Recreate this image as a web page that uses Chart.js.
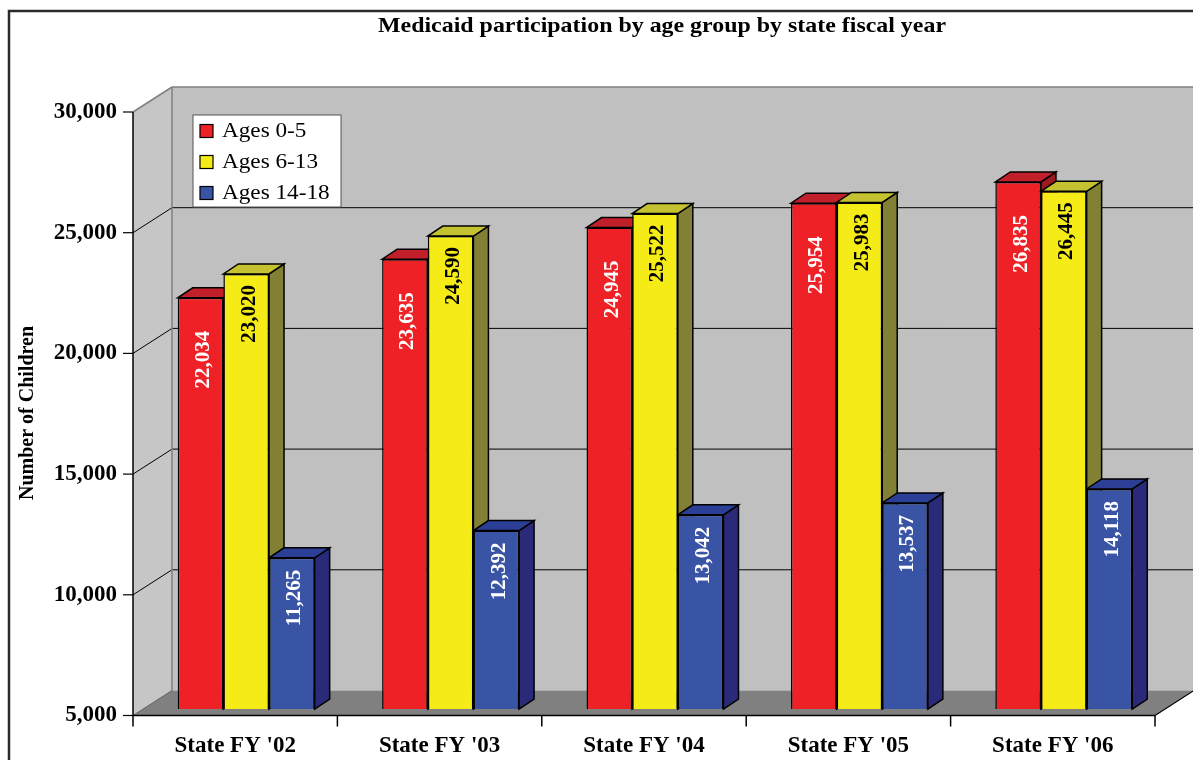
<!DOCTYPE html>
<html><head><meta charset="utf-8">
<script src="https://cdn.jsdelivr.net/npm/chart.js@4/dist/chart.umd.min.js"></script>
<style>html,body{margin:0;padding:0;background:#fff}#wrap{width:1193px;height:760px;position:relative}</style>
</head><body><div id="wrap"><canvas id="c" width="1193" height="760"></canvas></div>
<script>
const categories = ["State FY '02","State FY '03","State FY '04","State FY '05","State FY '06"];
const ages0to5 = [22034,23635,24945,25954,26835];
const ages6to13 = [23020,24590,25522,25983,26445];
const ages14to18 = [11265,12392,13042,13537,14118];
const seriesNames = ["Ages 0-5","Ages 6-13","Ages 14-18"];
const yTicks = [5000,10000,15000,20000,25000,30000];
const chartTitle = "Medicaid participation by age group by state fiscal year";
const yAxisTitle = "Number of Children";

const frontColors = ['#EE2226','#F5EB16','#3A54A5'];
const topColors = ['#C1202A','#C4C230','#2C3F96'];
const sideColors = ['#9A1A1F','#828034','#2A2A78'];
const labelColors = ['#FFFFFF','#000000','#FFFFFF'];
const labelGap = [33, 11, 12];
const SERIF = '"Liberation Serif","Times New Roman",serif';
const FRONT = {x:-11, y:6.5}, BACK = {x:28, y:-18.5}, BAR3D = {x:15, y:-10};

function poly(ctx, pts, fill, stroke, lw){
  ctx.beginPath(); ctx.moveTo(pts[0][0], pts[0][1]);
  for (let i=1;i<pts.length;i++) ctx.lineTo(pts[i][0], pts[i][1]);
  ctx.closePath();
  if (fill){ ctx.fillStyle = fill; ctx.fill(); }
  if (stroke){ ctx.strokeStyle = stroke; ctx.lineWidth = lw||1; ctx.stroke(); }
}
function line(ctx, x1,y1,x2,y2, color, lw){
  ctx.beginPath(); ctx.moveTo(x1,y1); ctx.lineTo(x2,y2);
  ctx.strokeStyle = color; ctx.lineWidth = lw||1; ctx.stroke();
}
function stretchedText(ctx, text, x, y, targetWidth, scaleX){
  const w = ctx.measureText(text).width;
  const sx = targetWidth ? targetWidth / w : scaleX;
  ctx.save(); ctx.translate(x, y); ctx.scale(sx, 1); ctx.fillText(text, 0, 0); ctx.restore();
}

const scene3d = {
  id: 'scene3d',
  beforeDatasetsDraw(chart){
    const ctx = chart.ctx, a = chart.chartArea, ys = chart.scales.y;
    const L=a.left, R=a.right, T=a.top, B=a.bottom;
    ctx.save();
    poly(ctx, [[L+FRONT.x,T+FRONT.y],[L+BACK.x,T+BACK.y],[L+BACK.x,B+BACK.y],[L+FRONT.x,B+FRONT.y]], '#C6C6C6');
    poly(ctx, [[L+BACK.x,T+BACK.y],[R+BACK.x,T+BACK.y],[R+BACK.x,B+BACK.y],[L+BACK.x,B+BACK.y]], '#C0C0C0');
    poly(ctx, [[L+FRONT.x,B+FRONT.y],[L+BACK.x,B+BACK.y],[R+BACK.x,B+BACK.y],[R+FRONT.x,B+FRONT.y]], '#808080');
    yTicks.forEach(v=>{
      const y = ys.getPixelForValue(v);
      if (v!==yTicks[0] && v!==yTicks[yTicks.length-1]){
        line(ctx, L+BACK.x, y+BACK.y, R+BACK.x+2, y+BACK.y, '#000', 1);
        line(ctx, L+FRONT.x, y+FRONT.y, L+BACK.x, y+BACK.y, '#000', 1);
      }
      line(ctx, L+FRONT.x-10, y+FRONT.y, L+FRONT.x, y+FRONT.y, '#000', 1.2);
    });
    line(ctx, L+FRONT.x, T+FRONT.y, L+BACK.x, T+BACK.y, '#808080', 1.5);
    line(ctx, L+BACK.x, T+BACK.y, R+BACK.x+2, T+BACK.y, '#808080', 1.5);
    line(ctx, L+BACK.x, T+BACK.y, L+BACK.x, B+BACK.y, '#808080', 1.5);
    line(ctx, L+FRONT.x, B+FRONT.y, L+BACK.x, B+BACK.y, '#606060', 1);
    line(ctx, R+FRONT.x, B+FRONT.y, R+BACK.x, B+BACK.y, '#000', 1.2);
    line(ctx, L+FRONT.x, T+FRONT.y, L+FRONT.x, B+FRONT.y, '#000', 1.5);
    line(ctx, L+FRONT.x, B+FRONT.y, R+FRONT.x, B+FRONT.y, '#000', 1.5);
    const n = categories.length, cw = (R-L)/n;
    for (let i=0;i<=n;i++){
      const x = L+FRONT.x + i*cw;
      line(ctx, x, B+FRONT.y, x, B+FRONT.y+11, '#000', 1.5);
    }
    for (let i=0;i<n;i++){
      chart.data.datasets.forEach((ds,d)=>{
        const el = chart.getDatasetMeta(d).data[i];
        const w = el.width, l = el.x - w/2, r = el.x + w/2, y = el.y, b = Math.min(el.base, B);
        poly(ctx, [[r,y],[r+BAR3D.x,y+BAR3D.y],[r+BAR3D.x,b+BAR3D.y],[r,b]], sideColors[d], '#000', 1.5);
        poly(ctx, [[l,y],[r,y],[r+BAR3D.x,y+BAR3D.y],[l+BAR3D.x,y+BAR3D.y]], topColors[d], '#000', 1.5);
      });
    }
    ctx.restore();
  },
  afterDatasetsDraw(chart){
    const ctx = chart.ctx;
    ctx.save();
    ctx.font = 'bold 21px ' + SERIF;
    ctx.textAlign = 'right'; ctx.textBaseline = 'middle';
    chart.data.datasets.forEach((ds,d)=>{
      chart.getDatasetMeta(d).data.forEach((el,i)=>{
        ctx.save();
        ctx.translate(el.x + 3, el.y + labelGap[d]);
        ctx.rotate(-Math.PI/2);
        ctx.fillStyle = labelColors[d];
        ctx.fillText(ds.data[i].toLocaleString('en-US'), 0, 0);
        ctx.restore();
      });
    });
    ctx.restore();
  },
  afterDraw(chart){
    const ctx = chart.ctx, a = chart.chartArea;
    ctx.save();
    ctx.strokeStyle = '#2a2a2a'; ctx.lineWidth = 2.5;
    ctx.beginPath(); ctx.moveTo(9, 762); ctx.lineTo(9, 11); ctx.lineTo(1195, 11); ctx.stroke();
    ctx.fillStyle = '#000';
    ctx.font = 'bold 21px ' + SERIF;
    ctx.textAlign = 'left'; ctx.textBaseline = 'middle';
    stretchedText(ctx, chartTitle, 378, 27, 568);
    ctx.save();
    ctx.translate(28, 413); ctx.rotate(-Math.PI/2);
    ctx.font = 'bold 20px ' + SERIF; ctx.textAlign = 'center';
    ctx.fillText(yAxisTitle, 0, 0);
    ctx.restore();
    const lx = a.left + 49, ly = a.top + 9.5, lw = 148, lh = 92;
    ctx.fillStyle = '#fff'; ctx.fillRect(lx, ly, lw, lh);
    ctx.strokeStyle = '#555'; ctx.lineWidth = 1; ctx.strokeRect(lx, ly, lw, lh);
    ctx.font = '20px ' + SERIF; ctx.textAlign = 'left'; ctx.textBaseline = 'middle';
    chart.data.datasets.forEach((ds,d)=>{
      const cy = ly + 16 + d*31;
      ctx.fillStyle = frontColors[d]; ctx.fillRect(lx+7, cy-6.5, 13, 13);
      ctx.strokeStyle = '#000'; ctx.lineWidth = 1.2; ctx.strokeRect(lx+7, cy-6.5, 13, 13);
      ctx.fillStyle = '#000'; stretchedText(ctx, ds.label, lx+29, cy+1, null, 1.16);
    });
    ctx.restore();
  }
};

new Chart(document.getElementById('c'), {
  type: 'bar',
  data: {
    labels: categories,
    datasets: [ages0to5, ages6to13, ages14to18].map((vals,d)=>({
      label: seriesNames[d], data: vals,
      backgroundColor: frontColors[d], borderColor: '#000', borderWidth: 1.5, borderSkipped: false,
      categoryPercentage: 0.67, barPercentage: 1.0
    }))
  },
  options: {
    responsive: false, animation: false, devicePixelRatio: 1,
    layout: { padding: { top: 105.5, right: 27, left: 0, bottom: 0 } },
    plugins: { legend: { display: false }, title: { display: false }, tooltip: { enabled: false } },
    scales: {
      x: {
        grid: { display: false, drawTicks: false }, border: { display: false },
        ticks: { color: '#000', font: { family: SERIF, size: 23, weight: 'bold' }, labelOffset: -11, padding: 23, maxRotation: 0 },
        afterFit: s => { s.height = 51; }
      },
      y: {
        min: 5000, max: 30000,
        grid: { display: false, drawTicks: false }, border: { display: false },
        afterBuildTicks: s => { s.ticks = yTicks.map(v => ({ value: v })); },
        ticks: { color: '#000', font: { family: SERIF, size: 23, weight: 'bold' }, padding: 27, labelOffset: 6.5,
                 callback: v => Number(v).toLocaleString('en-US') },
        afterFit: s => { s.width = 144; }
      }
    }
  },
  plugins: [scene3d]
});
</script>
</body></html>
